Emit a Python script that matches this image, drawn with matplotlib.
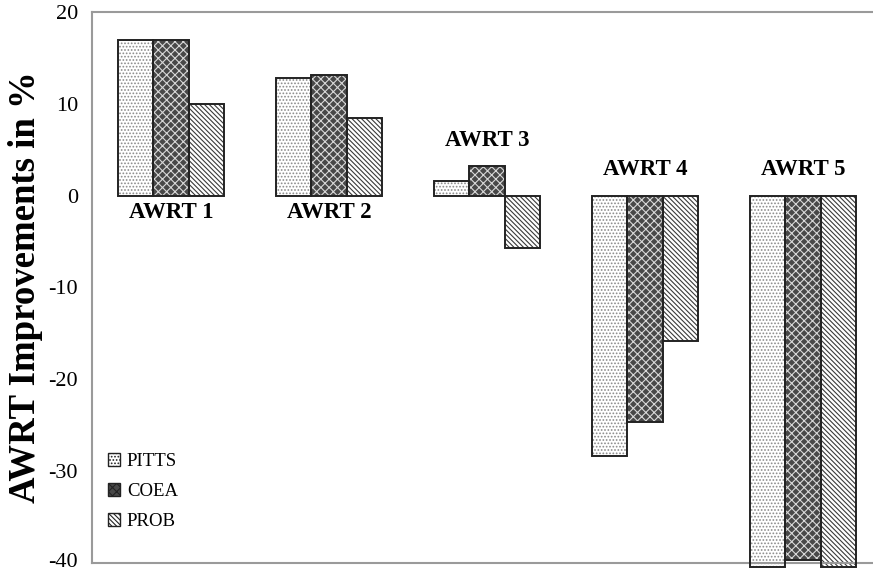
import numpy as np
import matplotlib
matplotlib.use('Agg')
import matplotlib.pyplot as plt
import matplotlib.transforms as mtransforms

plt.rcParams['font.family'] = ['Liberation Serif', 'DejaVu Serif']
plt.rcParams['hatch.linewidth'] = 0.8

# data
categories = ['AWRT 1', 'AWRT 2', 'AWRT 3', 'AWRT 4', 'AWRT 5']
series = ['PITTS', 'COEA', 'PROB']
pitts = [16.9, 12.8, 1.6, -28.4, -40.4]
coea = [16.9, 13.1, 3.2, -24.7, -39.7]
prob = [10.0, 8.5, -5.7, -15.8, -40.4]
yticks = [20, 10, 0, -10, -20, -30, -40]

# look of each series: face colour, hatch, hatch colour
styles = [
    ('white', '.....', '#8a8a8a'),
    ('#484848', 'xxxx', '#d8d8d8'),
    ('white', '\\' * 7, '#3a3a3a'),
]

fig = plt.figure(figsize=(8.73, 5.73), dpi=100)
ax = fig.add_axes([92 / 873, 1 - 563 / 573, 790 / 873, 551 / 573])

x = np.arange(len(categories))
w = 0.222
handles = []
for i, (name, vals) in enumerate(zip(series, [pitts, coea, prob])):
    fc, hatch, hc = styles[i]
    pos = x + (i - 1) * w
    # fill + hatch first, black outline on top
    ax.bar(pos, vals, w, color=fc, hatch=hatch, edgecolor=hc, linewidth=0, clip_on=False, zorder=2)
    ax.bar(pos, vals, w, fill=False, edgecolor='#222222', linewidth=1.4, clip_on=False, zorder=3)
    handles.append(plt.Rectangle((0, 0), 1, 1, facecolor=fc, hatch=hatch, edgecolor='#222222', linewidth=1.0))

# group labels: below zero for positive groups, above the bars otherwise
for i, cat in enumerate(categories):
    vals = [pitts[i], coea[i], prob[i]]
    if min(vals) >= 0:
        ax.annotate(cat, (x[i], 0), xytext=(0, -12), textcoords='offset points',
                    ha='center', va='center', fontsize=16.5, fontweight='bold')
    else:
        ax.annotate(cat, (x[i], max(0, max(vals))), xytext=(0, 18.5), textcoords='offset points',
                    ha='center', va='center', fontsize=16.5, fontweight='bold')

ax.set_xlim(-0.5, len(categories) - 0.5)
ax.set_ylim(-40, 20)
ax.set_yticks(yticks)
ax.set_yticklabels([str(t) for t in yticks], fontsize=16)
ax.set_xticks([])
ax.tick_params(axis='y', length=0, pad=10)
for s in ['left', 'top', 'bottom', 'right']:
    ax.spines[s].set_color('#9a9a9a')
    ax.spines[s].set_linewidth(1.5)

# lift the bottom tick label a touch so it stays inside the canvas
lbl = ax.get_yticklabels()[-1]
lbl.set_transform(lbl.get_transform() + mtransforms.ScaledTranslation(0, 3 / 100, fig.dpi_scale_trans))

ax.set_ylabel('AWRT Improvements in %', fontsize=26.5, fontweight='bold', labelpad=4)

leg = ax.legend(handles, series, loc='upper left', bbox_to_anchor=(108 / 873, 1 - 453 / 573),
                bbox_transform=fig.transFigure, frameon=False, fontsize=13.5,
                handlelength=0.65, handleheight=0.65, handletextpad=0.35,
                labelspacing=0.7, borderpad=0, borderaxespad=0)

fig.savefig('out.png', dpi=100)
